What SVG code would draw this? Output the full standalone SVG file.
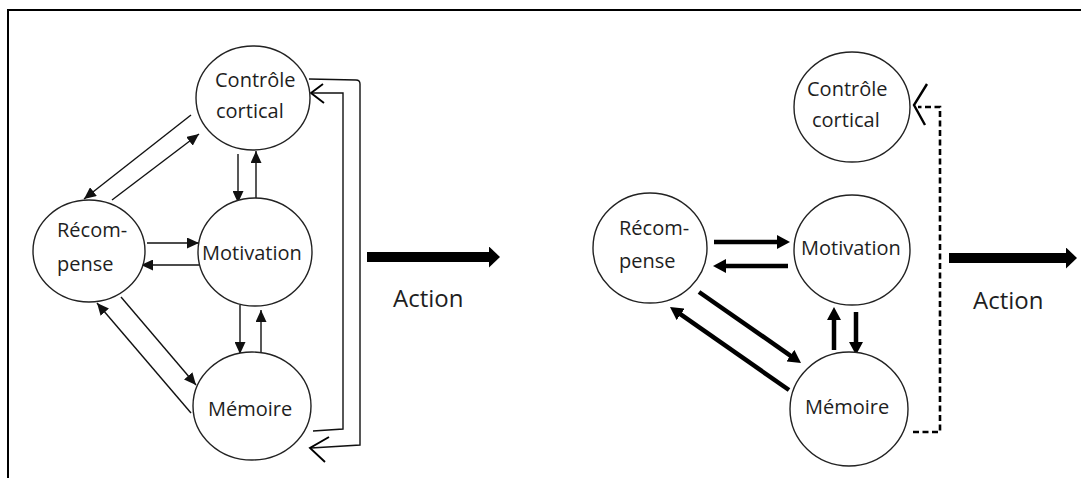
<svg xmlns="http://www.w3.org/2000/svg" width="1081" height="478" viewBox="0 0 1081 478">
<style>
.node{fill:#fff;stroke:#222;stroke-width:1.4}
.lbl{font-family:"Open Sans","Liberation Sans",sans-serif;font-size:20px;fill:#1e1e1e}
.act{font-family:"Open Sans","Liberation Sans",sans-serif;font-size:24px;fill:#1e1e1e}
.thin{fill:none;stroke:#111;stroke-width:1.4;marker-end:url(#hThin)}
.thick{fill:none;stroke:#000;stroke-width:4.5;marker-end:url(#hThick)}
.big{fill:none;stroke:#000;stroke-width:10;marker-end:url(#hBig)}
.open{fill:none;stroke:#111;stroke-width:1.4}
.openh{fill:none;stroke:#000;stroke-width:2.4;stroke-linejoin:miter}
.dash{fill:none;stroke:#000;stroke-width:2.6;stroke-dasharray:6,3.5}
</style>
<defs>
<marker id="hThin" markerUnits="userSpaceOnUse" markerWidth="13" markerHeight="11" refX="12" refY="5.5" orient="auto"><path d="M0,0 L12,5.5 L0,11 z" fill="#111"/></marker>
<marker id="hThick" markerUnits="userSpaceOnUse" markerWidth="14" markerHeight="14" refX="3" refY="7" orient="auto"><path d="M0,0 L13,7 L0,14 z" fill="#000"/></marker>
<marker id="hBig" markerUnits="userSpaceOnUse" markerWidth="12" markerHeight="21" refX="2" refY="10.5" orient="auto"><path d="M0,0 L11,10.5 L0,21 z" fill="#000"/></marker>
</defs>
<rect width="1081" height="478" fill="#fff"/>
<path d="M8,478 L8,10 L1081,10" fill="none" stroke="#000" stroke-width="2"/>

<g id="connectors">
  <!-- left diagram -->
  <line class="thin" x1="191" y1="115" x2="84" y2="199"/>
  <line class="thin" x1="112" y1="200" x2="199" y2="134"/>
  <line class="thin" x1="238" y1="154" x2="238" y2="203"/>
  <line class="thin" x1="256" y1="199" x2="256" y2="151"/>
  <line class="thin" x1="147" y1="243" x2="199" y2="243"/>
  <line class="thin" x1="199" y1="265" x2="141" y2="265"/>
  <line class="thin" x1="240" y1="305" x2="240" y2="354"/>
  <line class="thin" x1="261" y1="352" x2="261" y2="310"/>
  <line class="thin" x1="121" y1="297" x2="196" y2="385"/>
  <line class="thin" x1="191" y1="413" x2="97" y2="303"/>
  <path class="open" d="M309,79 L356,80 Q360,80 360,84 L360,445 L311,448"/>
  <path class="openh" style="stroke-width:1.9" d="M329,437 L310,448 L325,462"/>
  <path class="open" d="M313,431 L343,429 L343,93 L312,93"/>
  <path class="openh" style="stroke-width:1.9" d="M323,84 L311,93 L324,103"/>
  <line class="big" x1="367" y1="257" x2="491" y2="257"/>
  <!-- right diagram -->
  <line class="thick" x1="714" y1="242" x2="780" y2="242"/>
  <line class="thick" x1="788" y1="266" x2="723" y2="266"/>
  <line class="thick" x1="699" y1="292" x2="792.8" y2="357.3"/>
  <line class="thick" x1="789" y1="390" x2="678.2" y2="312.7"/>
  <line class="thick" x1="834" y1="350" x2="834" y2="317"/>
  <line class="thick" x1="856" y1="312" x2="856" y2="345"/>
  <path class="dash" d="M913,432 L940,432 L940,107 L918,107"/>
  <path class="openh" d="M927,84 L914,105 L925,125"/>
  <line class="big" x1="949" y1="258" x2="1068" y2="258"/>
</g>

<g id="L-controle">
  <ellipse class="node" cx="253" cy="98" rx="57" ry="52"/>
  <text class="lbl" x="215" y="87">Contrôle</text>
  <text class="lbl" x="216" y="118">cortical</text>
</g>
<g id="L-recompense">
  <ellipse class="node" cx="89" cy="251" rx="56" ry="51"/>
  <text class="lbl" x="57" y="237">Récom-</text>
  <text class="lbl" x="57" y="271">pense</text>
</g>
<g id="L-motivation">
  <ellipse class="node" cx="255" cy="252" rx="57" ry="54"/>
  <text class="lbl" x="202" y="260">Motivation</text>
</g>
<g id="L-memoire">
  <ellipse class="node" cx="252" cy="406" rx="59" ry="54"/>
  <text class="lbl" x="208" y="416">Mémoire</text>
</g>
<g id="L-action">
  <text class="act" x="393" y="307">Action</text>
</g>

<g id="R-controle">
  <ellipse class="node" cx="852" cy="107" rx="58" ry="55"/>
  <text class="lbl" x="807" y="96">Contrôle</text>
  <text class="lbl" x="812" y="127">cortical</text>
</g>
<g id="R-recompense">
  <ellipse class="node" cx="650" cy="248" rx="57" ry="55"/>
  <text class="lbl" x="619" y="235">Récom-</text>
  <text class="lbl" x="619" y="268">pense</text>
</g>
<g id="R-motivation">
  <ellipse class="node" cx="852" cy="250" rx="58" ry="55"/>
  <text class="lbl" x="801" y="255">Motivation</text>
</g>
<g id="R-memoire">
  <ellipse class="node" cx="849" cy="409" rx="59" ry="57"/>
  <text class="lbl" x="805" y="414">Mémoire</text>
</g>
<g id="R-action">
  <text class="act" x="973" y="309">Action</text>
</g>
</svg>
